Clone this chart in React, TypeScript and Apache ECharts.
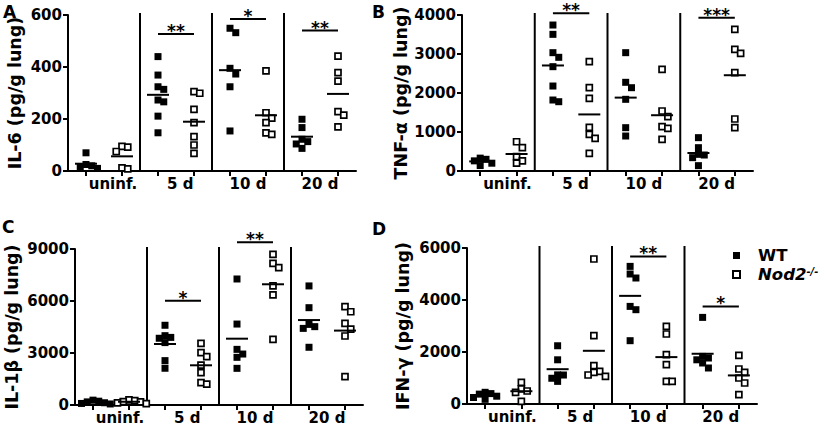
import React, { useEffect, useRef } from "react";
import * as echarts from "echarts";

// ---------- data ----------
const groupLabels = ["uninf.", "5 d", "10 d", "20 d"];

// IL-6 (pg/g lung)
const il6WT = [[70, 25, 20, 15, 10], [440, 369, 324, 314, 273, 266, 211, 147], [549, 532, 395, 373, 324, 154], [199, 167, 122, 113, 104, 87]];
const il6KO = [[95, 92, 75, 12, 8], [305, 299, 237, 186, 132, 100, 68], [385, 224, 203, 186, 147, 141], [442, 378, 346, 228, 215, 170]];
const il6Sig = [{ day: 1, y: 527, stars: "**" }, { day: 2, y: 585, stars: "*" }, { day: 3, y: 540, stars: "**" }];

// TNF-α (pg/g lung)
const tnfWT = [[330, 300, 260, 200, 140], [3743, 3504, 3034, 2915, 2675, 2179, 1820, 1777], [3034, 2274, 2136, 1838, 1111, 897], [855, 598, 427, 410, 342, 137]];
const tnfKO = [[750, 600, 370, 260, 200], [2803, 2136, 1864, 1120, 940, 838, 453], [2607, 1538, 1393, 1137, 1094, 812], [3632, 3120, 3017, 2521, 1333, 1111]];
const tnfSig = [{ day: 1, y: 4043, stars: "**" }, { day: 3, y: 3931, stars: "***" }];

// IL-1β (pg/g lung)
const il1bWT = [[280, 220, 180, 130, 90, 60], [4600, 4000, 3900, 3850, 3600, 2560, 2120], [7270, 4670, 3210, 2940, 2750, 2115], [6870, 5615, 4650, 4520, 4420, 3330]];
const il1bKO = [[300, 250, 200, 180, 120, 80], [3560, 3020, 2790, 2300, 1865, 1290, 1210], [8690, 8170, 7920, 6870, 6350, 3790], [5670, 5380, 4710, 4380, 3980, 1635]];
const il1bSig = [{ day: 1, y: 6017, stars: "*" }, { day: 2, y: 9385, stars: "**" }];

// IFN-γ (pg/g lung)
const ifnWT = [[450, 400, 380, 300, 250, 180], [2240, 1700, 1120, 1115, 990, 870], [5293, 5000, 4846, 3754, 3627, 2435], [3331, 1831, 1769, 1700, 1577, 1385]];
const ifnKO = [[830, 580, 500, 450, 100], [5577, 2627, 1473, 1254, 1215, 1115, 1062], [2985, 2692, 1896, 1512, 869, 869], [1869, 1346, 1215, 1000, 808, 358]];
const ifnSig = [{ day: 2, y: 5677, stars: "**" }, { day: 3, y: 3754, stars: "*" }];

// ---------- layout ----------
const FONT = '"DejaVu Sans", "Liberation Sans", sans-serif';
const PLOT_H = 156;
const LABEL_POS = [1.25, 3.12, 5, 7];

const panels = [
  { letter: "A", name: "IL-6 (pg/g lung)", max: 600, interval: 200, wt: il6WT, ko: il6KO, sig: il6Sig, grid: { left: 68, top: 15, width: 288 }, nameGap: 44, letterPos: { left: 3, top: 3 } },
  { letter: "B", name: "TNF-α (pg/g lung)", max: 4000, interval: 1000, wt: tnfWT, ko: tnfKO, sig: tnfSig, grid: { left: 462, top: 15, width: 291 }, nameGap: 51, letterPos: { left: 372, top: 3 } },
  { letter: "C", name: "IL-1β (pg/g lung)", max: 9000, interval: 3000, wt: il1bWT, ko: il1bKO, sig: il1bSig, grid: { left: 75, top: 249, width: 288 }, nameGap: 54, letterPos: { left: 2, top: 218 } },
  { letter: "D", name: "IFN-γ (pg/g lung)", max: 6000, interval: 2000, wt: ifnWT, ko: ifnKO, sig: ifnSig, grid: { left: 467, top: 248, width: 290 }, nameGap: 55, letterPos: { left: 372, top: 220 } },
];

// simple beeswarm: nudge overlapping squares sideways
function swarm(values: number[], center: number, yPerPx: number): number[][] {
  const d = 0.16;
  const thr = 6 * yPerPx;
  const placed: number[][] = [];
  const sorted = [...values].sort((a, b) => b - a);
  for (const v of sorted) {
    for (const k of [0, 1, -1, 2, -2, 3, -3]) {
      const x = center + k * d;
      if (!placed.some(([px, py]) => Math.abs(px - x) < d * 0.99 && Math.abs(py - v) < thr)) {
        placed.push([x, v]);
        break;
      }
    }
  }
  return placed;
}

const mean = (a: number[]) => a.reduce((s, v) => s + v, 0) / a.length;

function buildOption() {
  const grids: any[] = [];
  const xAxes: any[] = [];
  const yAxes: any[] = [];
  const series: any[] = [];
  const titles: any[] = [];

  panels.forEach((p, i) => {
    grids.push({ ...p.grid, height: PLOT_H, containLabel: false, outerBoundsMode: "none" });
    titles.push({
      text: p.letter,
      left: p.letterPos.left,
      top: p.letterPos.top,
      padding: 0,
      textStyle: { fontFamily: FONT, fontWeight: "bold", fontSize: 17, color: "#000" },
    });
    xAxes.push({
      type: "value",
      gridIndex: i,
      min: 0,
      max: 8,
      axisLine: { show: true, lineStyle: { color: "#000", width: 2 } },
      axisTick: { show: true, length: 5, lineStyle: { color: "#000", width: 2 }, customValues: [0, 1, 2, 3, 4, 5, 6, 7].map((g) => g + 0.5) },
      axisLabel: {
        show: true,
        margin: 5,
        customValues: LABEL_POS,
        formatter: (v: number) => {
          const idx = LABEL_POS.findIndex((q) => Math.abs(q - v) < 1e-6);
          return idx >= 0 ? groupLabels[idx] : "";
        },
        fontFamily: FONT,
        fontWeight: "bold",
        fontSize: 15,
        color: "#000",
      },
      splitLine: { show: false },
    });
    yAxes.push({
      type: "value",
      gridIndex: i,
      min: 0,
      max: p.max,
      interval: p.interval,
      name: p.name,
      nameLocation: "middle",
      nameRotate: 90,
      nameGap: p.nameGap,
      nameTextStyle: { fontFamily: FONT, fontWeight: "bold", fontSize: 17.5, color: "#000" },
      axisLine: { show: true, lineStyle: { color: "#000", width: 2 } },
      axisTick: { show: true, length: 5, lineStyle: { color: "#000", width: 2 } },
      axisLabel: { margin: 6, fontFamily: FONT, fontWeight: "bold", fontSize: 15, color: "#000", formatter: (v: number) => String(v) },
      splitLine: { show: false },
    });

    const yPerPx = p.max / PLOT_H;
    const wtPts: number[][] = [];
    const koPts: number[][] = [];
    const means: number[][] = [];
    for (let d = 0; d < 4; d++) {
      wtPts.push(...swarm(p.wt[d], 2 * d + 0.5, yPerPx));
      koPts.push(...swarm(p.ko[d], 2 * d + 1.5, yPerPx));
      means.push([2 * d + 0.5, mean(p.wt[d])]);
      means.push([2 * d + 1.5, mean(p.ko[d])]);
    }

    series.push({
      type: "scatter",
      name: "WT",
      xAxisIndex: i,
      yAxisIndex: i,
      symbol: "rect",
      symbolSize: 7,
      itemStyle: { color: "#000", opacity: 1 },
      data: wtPts,
      z: 3,
    });
    series.push({
      type: "scatter",
      name: "Nod2-/-",
      xAxisIndex: i,
      yAxisIndex: i,
      symbol: "rect",
      symbolSize: 6,
      itemStyle: { color: "#fff", borderColor: "#000", borderWidth: 1.7, opacity: 1 },
      data: koPts,
      z: 3,
    });
    // mean lines
    series.push({
      type: "custom",
      xAxisIndex: i,
      yAxisIndex: i,
      z: 4,
      silent: true,
      data: means,
      renderItem: (params: any, api: any) => {
        const c = api.coord([api.value(0), api.value(1)]);
        return {
          type: "line",
          shape: { x1: c[0] - 11, y1: c[1], x2: c[0] + 11, y2: c[1] },
          style: { stroke: "#000", lineWidth: 2 },
        };
      },
    });
    // separators between time points
    series.push({
      type: "custom",
      xAxisIndex: i,
      yAxisIndex: i,
      z: 2,
      silent: true,
      data: [[2, 0], [4, 0], [6, 0]],
      renderItem: (params: any, api: any) => {
        const a = api.coord([api.value(0), 0]);
        const b = api.coord([api.value(0), p.max]);
        return {
          type: "line",
          shape: { x1: a[0], y1: a[1], x2: b[0], y2: b[1] - 2 },
          style: { stroke: "#000", lineWidth: 2 },
        };
      },
    });
    // significance bars
    series.push({
      type: "custom",
      xAxisIndex: i,
      yAxisIndex: i,
      z: 4,
      silent: true,
      data: p.sig.map((s) => [2 * s.day + 0.5, s.y]),
      renderItem: (params: any, api: any) => {
        const s = p.sig[params.dataIndex];
        const a = api.coord([2 * s.day + 0.5, s.y]);
        const b = api.coord([2 * s.day + 1.5, s.y]);
        return {
          type: "group",
          children: [
            { type: "line", shape: { x1: a[0], y1: a[1], x2: b[0], y2: b[1] }, style: { stroke: "#000", lineWidth: 2 } },
            {
              type: "text",
              x: (a[0] + b[0]) / 2,
              y: a[1] - 3,
              style: { text: s.stars, fill: "#000", font: `bold 17px ${FONT}`, align: "center", verticalAlign: "middle" },
            },
          ],
        };
      },
    });
  });

  return {
    animation: false,
    backgroundColor: "#fff",
    title: titles,
    grid: grids,
    xAxis: xAxes,
    yAxis: yAxes,
    legend: {
      orient: "vertical",
      left: 732,
      top: 247,
      padding: 0,
      itemWidth: 7,
      itemHeight: 7,
      itemGap: 2,
      selectedMode: false,
      data: [
        { name: "WT", icon: "rect" },
        { name: "Nod2-/-", icon: "rect" },
      ],
      formatter: (name: string) => (name === "WT" ? "{b|WT}" : "{n|Nod2}{s|-/-}"),
      textStyle: {
        fontFamily: FONT,
        fontWeight: "bold",
        fontSize: 16,
        color: "#000",
        padding: [0, 0, 0, 13],
        rich: {
          b: { fontFamily: FONT, fontWeight: "bold", fontSize: 16.5, lineHeight: 16, color: "#000" },
          n: { fontFamily: FONT, fontWeight: "bold", fontStyle: "italic", fontSize: 16.5, lineHeight: 16, color: "#000" },
          s: { fontFamily: FONT, fontWeight: "bold", fontStyle: "italic", fontSize: 10, lineHeight: 16, verticalAlign: "top", color: "#000" },
        },
      },
    },
    series,
  };
}

export default function App() {
  const ref = useRef<HTMLDivElement>(null);
  useEffect(() => {
    if (!ref.current) return;
    const chart = echarts.init(ref.current, null, { renderer: "svg" });
    chart.setOption(buildOption() as any);
    return () => chart.dispose();
  }, []);
  return <div ref={ref} style={{ position: "absolute", left: 0, top: 0, width: 827, height: 426 }} />;
}
